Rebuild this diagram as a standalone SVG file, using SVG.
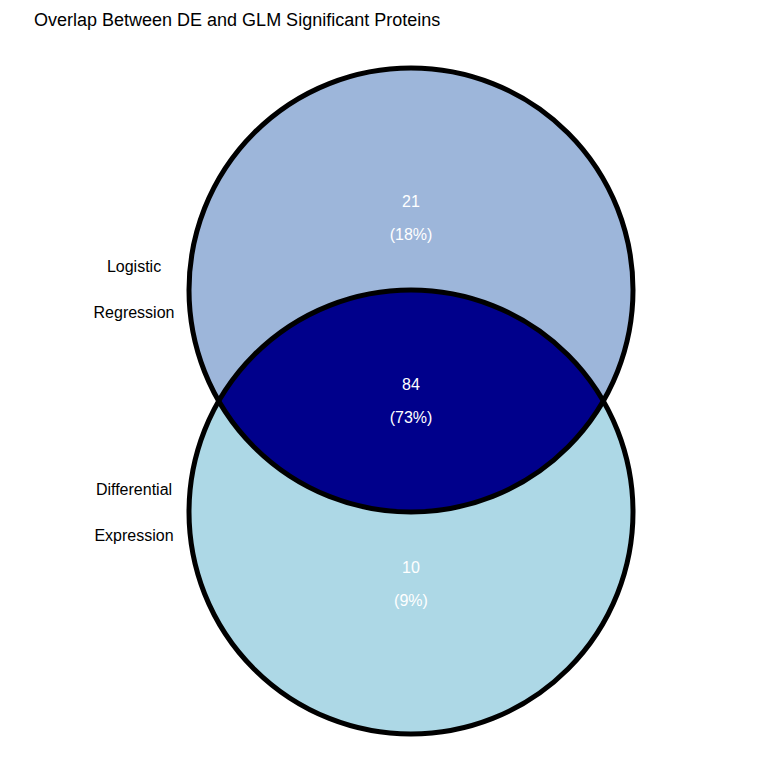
<svg xmlns="http://www.w3.org/2000/svg" width="768" height="768" viewBox="0 0 768 768">
<style>
text{font-family:"Liberation Sans",Arial,sans-serif}
.t{font-size:18px;fill:#000}
.lab{font-size:16px;fill:#000;text-anchor:middle}
.num{font-size:16px;fill:#fff;text-anchor:middle}
.ring{fill:none;stroke:#000;stroke-width:5}
</style>
<rect width="768" height="768" fill="#fff"/>
<text class="t" x="34" y="26">Overlap Between DE and GLM Significant Proteins</text>
<g id="de">
<circle cx="411" cy="512" r="222" fill="#ADD8E6"/>
</g>
<g id="glm">
<circle cx="411" cy="290" r="222" fill="#9DB6DA"/>
</g>
<g id="overlap">
<path d="M218.7 401 A222 222 0 0 1 603.3 401 A222 222 0 0 1 218.7 401 Z" fill="#00008B"/>
</g>
<g id="outlines">
<circle class="ring" cx="411" cy="290" r="222"/>
<circle class="ring" cx="411" cy="512" r="222"/>
</g>
<g id="labels">
<text class="lab" x="134" y="272">Logistic</text>
<text class="lab" x="134" y="318">Regression</text>
<text class="lab" x="134" y="495">Differential</text>
<text class="lab" x="134" y="541">Expression</text>
<text class="num" x="411" y="207">21</text>
<text class="num" x="411" y="240">(18%)</text>
<text class="num" x="411" y="390">84</text>
<text class="num" x="411" y="423">(73%)</text>
<text class="num" x="411" y="573">10</text>
<text class="num" x="411" y="606">(9%)</text>
</g>
</svg>
